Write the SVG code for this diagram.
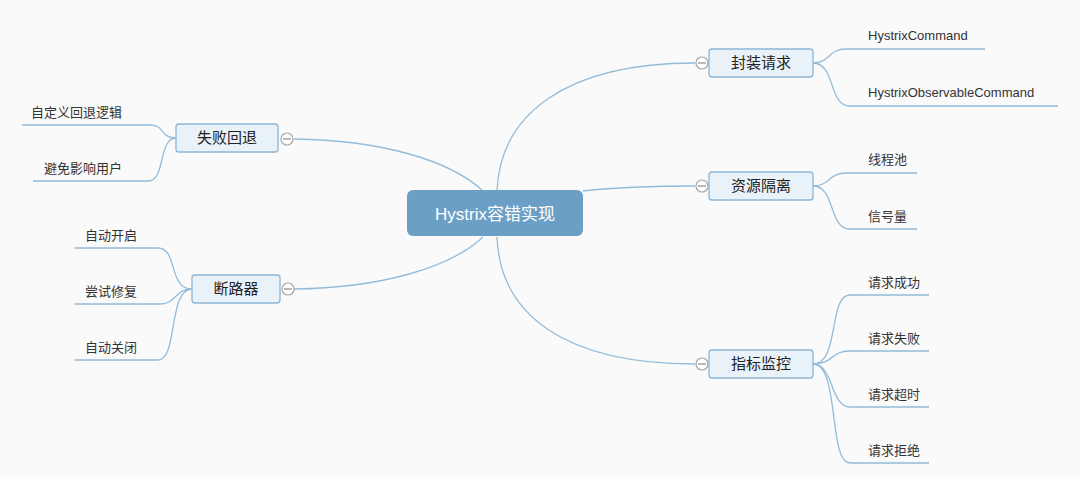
<svg xmlns="http://www.w3.org/2000/svg" width="1080" height="477" viewBox="0 0 1080 477">
<style>
.bg{fill:#fafafa}
.c{fill:none;stroke:#93bcd9;stroke-width:1.3}
.box{fill:#eaf2f9;stroke:#8db6d6;stroke-width:1.3}
.lbl{font-family:"Liberation Sans","Noto Sans CJK SC",sans-serif;font-size:15px;fill:#222;text-anchor:middle}
.t{font-family:"Liberation Sans","Noto Sans CJK SC",sans-serif;font-size:13px;fill:#333}
.te{text-anchor:end}
.tog{fill:#fff;stroke:#a6a6a6;stroke-width:1.2}
.tm{stroke:#8a8a8a;stroke-width:1.2}
</style>
<rect class="bg" x="0" y="0" width="1080" height="477"/>
<g id="connectors">
<path class="c" d="M294,139 C380,140 450,160 483,191"/>
<path class="c" d="M294,289 C380,288 450,268 483,237"/>
<path class="c" d="M497,191 C500,115 565,63 695,63"/>
<path class="c" d="M497,237 C500,315 565,364 695,364"/>
<path class="c" d="M583,191 C620,187 660,186 695,186"/>
<path class="c" d="M813,63 C830,63 828,49 846,49 L985,49"/>
<path class="c" d="M813,63 C836,63 828,106 850,106 L1058,106"/>
<path class="c" d="M813,186 C830,186 828,173 846,173 L917,173"/>
<path class="c" d="M813,186 C836,186 828,229 850,229 L917,229"/>
<path class="c" d="M813,364 C840,364 828,295 850,295 L929,295"/>
<path class="c" d="M813,364 C834,364 830,351 850,351 L929,351"/>
<path class="c" d="M813,364 C834,364 830,407 850,407 L929,407"/>
<path class="c" d="M813,364 C840,364 828,463 850,463 L929,463"/>
<path class="c" d="M176,138 C160,138 165,125 150,125 L22,125"/>
<path class="c" d="M176,138 C158,138 166,181 148,181 L33,181"/>
<path class="c" d="M192,289 C168,289 178,248 158,248 L75,248"/>
<path class="c" d="M192,289 C175,289 176,304 160,304 L75,304"/>
<path class="c" d="M192,289 C168,289 178,360 158,360 L75,360"/>
</g>
<g id="root">
<rect x="407" y="190" width="176" height="46" rx="6" fill="#6b9fc6"/>
<text x="495" y="220" font-family="'Liberation Sans','Noto Sans CJK SC',sans-serif" font-size="17" fill="#fff" text-anchor="middle">Hystrix容错实现</text>
</g>
<g id="n-fengzhuang">
<rect class="box" x="709" y="49" width="104" height="28" rx="3"/>
<text class="lbl" x="761" y="68">封装请求</text>
<circle class="tog" cx="702" cy="63" r="6"/><line class="tm" x1="698" y1="63" x2="706" y2="63"/>
</g>
<g id="n-ziyuan">
<rect class="box" x="709" y="172" width="104" height="28" rx="3"/>
<text class="lbl" x="761" y="191">资源隔离</text>
<circle class="tog" cx="702" cy="186" r="6"/><line class="tm" x1="698" y1="186" x2="706" y2="186"/>
</g>
<g id="n-zhibiao">
<rect class="box" x="709" y="350" width="104" height="28" rx="3"/>
<text class="lbl" x="761" y="369">指标监控</text>
<circle class="tog" cx="702" cy="364" r="6"/><line class="tm" x1="698" y1="364" x2="706" y2="364"/>
</g>
<g id="n-shibai">
<rect class="box" x="176" y="124" width="102" height="28" rx="3"/>
<text class="lbl" x="227" y="143">失败回退</text>
<circle class="tog" cx="287" cy="139" r="6"/><line class="tm" x1="283" y1="139" x2="291" y2="139"/>
</g>
<g id="n-duanlu">
<rect class="box" x="192" y="275" width="88" height="28" rx="3"/>
<text class="lbl" x="236" y="294">断路器</text>
<circle class="tog" cx="288" cy="289" r="6"/><line class="tm" x1="284" y1="289" x2="292" y2="289"/>
</g>
<g id="leaves">
<text class="t" x="868" y="40">HystrixCommand</text>
<text class="t" x="868" y="97">HystrixObservableCommand</text>
<text class="t" x="868" y="164">线程池</text>
<text class="t" x="868" y="221">信号量</text>
<text class="t" x="868" y="287">请求成功</text>
<text class="t" x="868" y="343">请求失败</text>
<text class="t" x="868" y="399">请求超时</text>
<text class="t" x="868" y="455">请求拒绝</text>
<text class="t te" x="122" y="117">自定义回退逻辑</text>
<text class="t te" x="122" y="173">避免影响用户</text>
<text class="t te" x="137" y="240">自动开启</text>
<text class="t te" x="137" y="296">尝试修复</text>
<text class="t te" x="137" y="352">自动关闭</text>
</g>
</svg>
